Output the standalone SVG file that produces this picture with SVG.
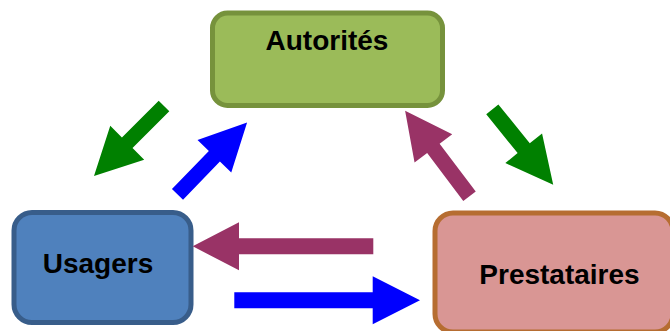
<svg xmlns="http://www.w3.org/2000/svg" width="670" height="331" viewBox="0 0 670 331">
<style>
.box{stroke-width:5}
.lbl{font-family:"Liberation Sans",Arial,sans-serif;font-weight:bold;font-size:28px;fill:#000;text-anchor:middle}
.g{fill:#008000}
.b{fill:#0000FF}
.m{fill:#993366}
</style>
<rect width="670" height="331" fill="#ffffff"/>
<g id="autorites">
<rect class="box" x="212.5" y="13" width="230" height="92.5" rx="15" fill="#9BBB59" stroke="#76923C"/>
<text class="lbl" x="327" y="50">Autorités</text>
</g>
<g id="usagers">
<rect class="box" x="14" y="212.5" width="177" height="110" rx="18" fill="#4F81BD" stroke="#385D8A"/>
<text class="lbl" x="98" y="273">Usagers</text>
</g>
<g id="prestataires">
<rect class="box" x="435" y="213" width="238" height="119" rx="18" fill="#D99694" stroke="#B66D31"/>
<text class="lbl" x="559.5" y="283.5">Prestataires</text>
</g>
<g id="connectors">
<polygon class="g" transform="translate(164,106) rotate(135)" points="0,-7.5 52,-7.5 52,-24 99,0 52,24 52,7.5 0,7.5"/>
<polygon class="b" transform="translate(177.5,194.3) rotate(-45.9)" points="0,-7.7 53,-7.7 53,-23.5 100,0 53,23.5 53,7.7 0,7.7"/>
<polygon class="m" transform="translate(469.5,196.3) rotate(-127)" points="0,-7.8 60,-7.8 60,-23.6 107,0 60,23.6 60,7.8 0,7.8"/>
<polygon class="g" transform="translate(492.3,109.3) rotate(51.1)" points="0,-7.8 50,-7.8 50,-23.6 97,0 50,23.6 50,7.8 0,7.8"/>
<polygon class="m" transform="translate(373.3,246.3) rotate(180)" points="0,-8 134.3,-8 134.3,-24 180.6,0 134.3,24 134.3,8 0,8"/>
<polygon class="b" transform="translate(234.3,300.3)" points="0,-8 138.4,-8 138.4,-24 185.7,0 138.4,24 138.4,8 0,8"/>
</g>
</svg>
